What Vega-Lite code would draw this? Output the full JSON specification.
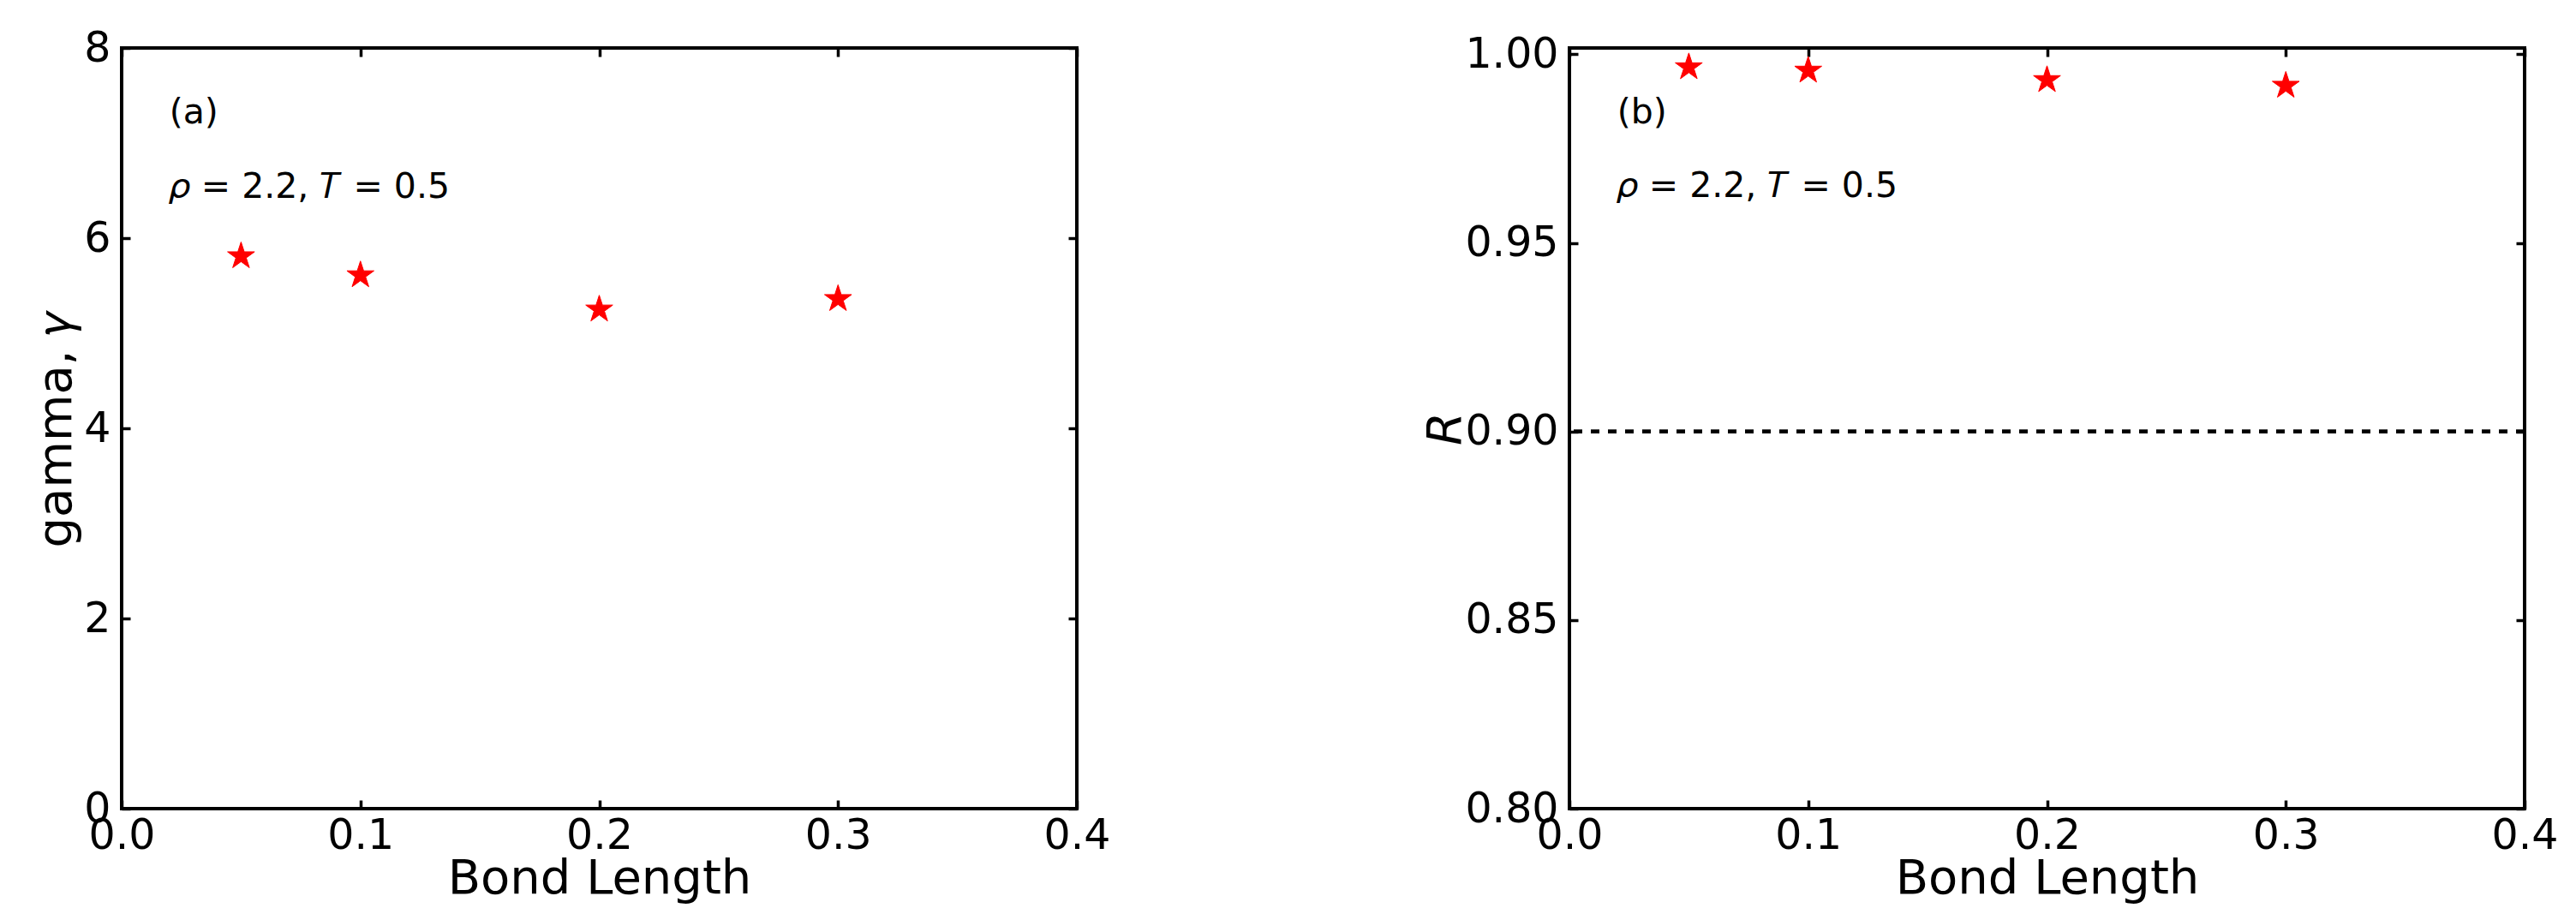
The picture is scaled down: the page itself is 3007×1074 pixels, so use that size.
{
  "$schema": "https://vega.github.io/schema/vega-lite/v6.json",
  "background": "white",
  "padding": {"left": 35, "top": 30, "right": 5, "bottom": 5},
  "datasets": {
    "gamma": [
      {"bond": 0.05, "gamma": 5.81},
      {"bond": 0.1, "gamma": 5.61},
      {"bond": 0.2, "gamma": 5.25},
      {"bond": 0.3, "gamma": 5.36}
    ],
    "rval": [
      {"bond": 0.05, "R": 0.9966},
      {"bond": 0.1, "R": 0.9957},
      {"bond": 0.2, "R": 0.9932},
      {"bond": 0.3, "R": 0.9917}
    ],
    "notesA": [
      {"x": 0.02, "y": 7.21, "label": "(a)"},
      {"x": 0.02, "y": 6.42, "label": "𝜌 = 2.2, 𝑇 = 0.5"}
    ],
    "notesB": [
      {"x": 0.02, "y": 0.9816, "label": "(b)"},
      {"x": 0.02, "y": 0.9621, "label": "𝜌 = 2.2, 𝑇 = 0.5"}
    ]
  },
  "hconcat": [
    {
      "width": 1115,
      "height": 888,
      "layer": [
        {
          "data": {"name": "gamma"},
          "mark": {"type": "point", "shape": "M0,-1L0.2245,-0.309L0.9511,-0.309L0.3633,0.118L0.5878,0.809L0,0.382L-0.5878,0.809L-0.3633,0.118L-0.9511,-0.309L-0.2245,-0.309Z", "filled": true, "fill": "#ff0000", "stroke": "#ff0000", "strokeWidth": 1, "size": 1100, "opacity": 1},
          "encoding": {
            "x": {"field": "bond", "type": "quantitative", "scale": {"domain": [0, 0.4], "nice": false, "zero": false},
                  "axis": {"orient": "bottom", "values": [0, 0.1, 0.2, 0.3, 0.4], "format": ".1f", "title": "Bond Length", "labelPadding": 17, "titleY": 54}},
            "y": {"field": "gamma", "type": "quantitative", "scale": {"domain": [0, 8], "nice": false, "zero": false},
                  "axis": {"orient": "left", "values": [0, 2, 4, 6, 8], "format": "d", "title": "gamma, 𝛾", "labelPadding": 23, "titleX": -48}}
          }
        },
        {
          "data": {"name": "gamma"},
          "mark": {"type": "point", "opacity": 0},
          "encoding": {
            "x": {"field": "bond", "type": "quantitative", "axis": {"orient": "top", "values": [0, 0.1, 0.2, 0.3, 0.4], "labels": false, "title": null}},
            "y": {"field": "gamma", "type": "quantitative", "axis": {"orient": "right", "values": [0, 2, 4, 6, 8], "labels": false, "title": null}}
          }
        },
        {
          "data": {"name": "notesA"},
          "mark": {"type": "text", "align": "left", "baseline": "alphabetic", "fontSize": 41, "font": "DejaVu Sans", "color": "black"},
          "encoding": {
            "x": {"field": "x", "type": "quantitative", "axis": null},
            "y": {"field": "y", "type": "quantitative", "axis": null},
            "text": {"field": "label"}
          }
        }
      ],
      "resolve": {"axis": {"x": "independent", "y": "independent"}}
    },
    {
      "width": 1115,
      "height": 888,
      "layer": [
        {
          "data": {"name": "rval"},
          "mark": {"type": "rule", "strokeDash": [10, 10], "strokeWidth": 4, "color": "black"},
          "encoding": {
            "y": {"datum": 0.9, "type": "quantitative", "axis": null}
          }
        },
        {
          "data": {"name": "rval"},
          "mark": {"type": "point", "shape": "M0,-1L0.2245,-0.309L0.9511,-0.309L0.3633,0.118L0.5878,0.809L0,0.382L-0.5878,0.809L-0.3633,0.118L-0.9511,-0.309L-0.2245,-0.309Z", "filled": true, "fill": "#ff0000", "stroke": "#ff0000", "strokeWidth": 1, "size": 1100, "opacity": 1},
          "encoding": {
            "x": {"field": "bond", "type": "quantitative", "scale": {"domain": [0, 0.4], "nice": false, "zero": false},
                  "axis": {"orient": "bottom", "values": [0, 0.1, 0.2, 0.3, 0.4], "format": ".1f", "title": "Bond Length", "labelPadding": 17, "titleY": 54}},
            "y": {"field": "R", "type": "quantitative", "scale": {"domain": [0.8, 1.0017], "nice": false, "zero": false},
                  "axis": {"orient": "left", "values": [0.8, 0.85, 0.9, 0.95, 1.0], "format": ".2f", "title": "R", "titleFontStyle": "italic", "labelPadding": 23, "titleX": -116}}
          }
        },
        {
          "data": {"name": "rval"},
          "mark": {"type": "point", "opacity": 0},
          "encoding": {
            "x": {"field": "bond", "type": "quantitative", "axis": {"orient": "top", "values": [0, 0.1, 0.2, 0.3, 0.4], "labels": false, "title": null}},
            "y": {"field": "R", "type": "quantitative", "axis": {"orient": "right", "values": [0.8, 0.85, 0.9, 0.95, 1.0], "labels": false, "title": null}}
          }
        },
        {
          "data": {"name": "notesB"},
          "mark": {"type": "text", "align": "left", "baseline": "alphabetic", "fontSize": 41, "font": "DejaVu Sans", "color": "black"},
          "encoding": {
            "x": {"field": "x", "type": "quantitative", "axis": null},
            "y": {"field": "y", "type": "quantitative", "axis": null},
            "text": {"field": "label"}
          }
        }
      ],
      "resolve": {"axis": {"x": "independent", "y": "independent"}}
    }
  ],
  "spacing": 575,
  "bounds": "flush",
  "config": {
    "font": "DejaVu Sans",
    "view": {"stroke": "black", "strokeWidth": 4},
    "axis": {
      "labelFont": "DejaVu Sans",
      "titleFont": "DejaVu Sans",
      "labelColor": "black",
      "titleColor": "black",
      "tickColor": "black",
      "labelFontSize": 49,
      "titleFontSize": 56,
      "titleFontWeight": "normal",
      "grid": false,
      "domain": false,
      "tickSize": -10,
      "tickWidth": 3.5,
      "zindex": 1,
      "labelFlush": false,
      "labelOverlap": false
    }
  }
}
